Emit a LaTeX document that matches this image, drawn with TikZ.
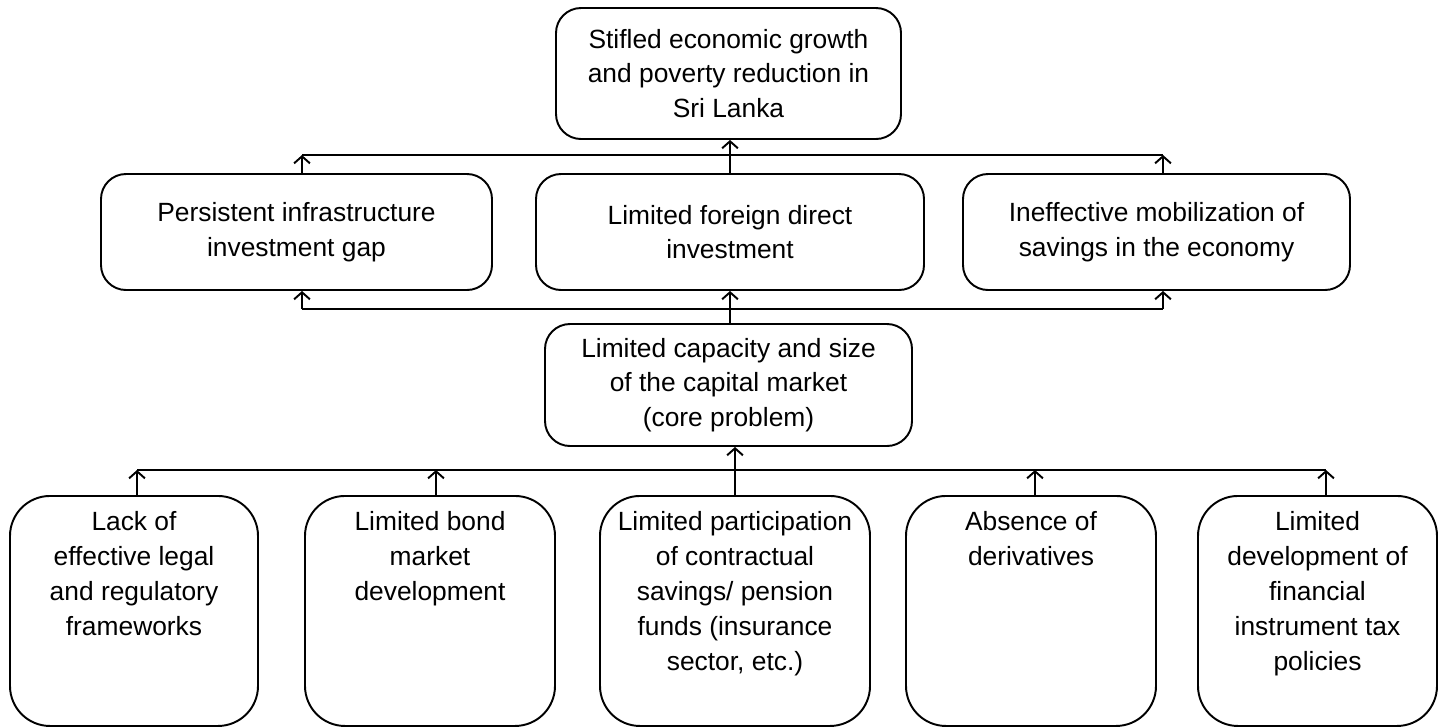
\documentclass[tikz,border=0pt]{standalone}
\usepackage{fontspec}
\setmainfont{Liberation Sans}
\usetikzlibrary{arrows.meta}

\tikzset{
  box/.style={draw, line width=1.1pt, rounded corners=0.5cm, align=center,
    inner sep=1pt, font=\fontsize{15}{19.8}\selectfont},
  tallbox/.style={box, align=flush center, rounded corners=0.8cm, anchor=north, inner sep=0pt,
    text height=0.7cm, text depth=3.9cm},
  arr/.style={line width=1.1pt, -{Straight Barb[length=4pt,width=9pt,line width=1.1pt]}},
  bar/.style={line width=1pt}
}

\begin{document}
\begin{tikzpicture}
  \useasboundingbox (0,0) rectangle (28.86,-14.54);
  \def\midh{2.32cm}

  % the goal at the top
  \node[box, minimum width=6.9cm, minimum height=2.62cm] (goal) at (14.57,-1.47)
    {Stifled economic growth\\and poverty reduction in\\Sri Lanka};

  % the three effects
  \node[box, minimum width=7.82cm, minimum height=\midh] (infra) at (5.93,-4.64)
    {Persistent infrastructure\\investment gap};
  \node[box, minimum width=7.76cm, minimum height=\midh] (fdi) at (14.6,-4.64)
    {Limited foreign direct\\investment};
  \node[box, minimum width=7.74cm, minimum height=\midh] (savings) at (23.13,-4.64)
    {Ineffective mobilization of\\savings in the economy};

  % the core problem
  \node[box, minimum width=7.34cm, minimum height=2.44cm] (core) at (14.57,-7.7)
    {Limited capacity and size\\of the capital market\\(core problem)};

  % the five causes
  \node[tallbox, text width=4.96cm] (legal) at (2.68,-9.9)
    {Lack of\\effective legal\\and regulatory\\frameworks};
  \node[tallbox, text width=5.0cm] (bond) at (8.6,-9.9)
    {Limited bond\\market\\development};
  \node[tallbox, text width=5.4cm] (pension) at (14.7,-9.9)
    {Limited participation\\of contractual\\savings/ pension\\funds (insurance\\sector, etc.)};
  \node[tallbox, text width=5.0cm] (deriv) at (20.62,-9.9)
    {Absence of\\derivatives};
  \node[tallbox, text width=4.78cm] (tax) at (26.35,-9.9)
    {Limited\\development of\\financial\\instrument tax\\policies};

  % the bars that join them
  \coordinate (topbar) at (0,-3.1);
  \coordinate (midbar) at (0,-6.18);
  \coordinate (lowbar) at (0,-9.4);

  % effects up to the goal
  \draw[bar] ([xshift=0.11cm]infra.north |- topbar) -- ([xshift=0.13cm]savings.north |- topbar);
  \draw[arr] ([xshift=0.11cm]infra.north) -- ([xshift=0.11cm]infra.north |- topbar);
  \draw[arr] ([xshift=0.13cm]savings.north) -- ([xshift=0.13cm]savings.north |- topbar);
  \draw[arr] (fdi.north) -- (fdi.north |- goal.south);

  % core problem up to the effects
  \draw[bar] ([xshift=0.11cm]infra.south |- midbar) -- ([xshift=0.13cm]savings.south |- midbar);
  \draw[arr] ([xshift=0.11cm]infra.south |- midbar) -- ([xshift=0.11cm]infra.south);
  \draw[arr] ([xshift=0.13cm]savings.south |- midbar) -- ([xshift=0.13cm]savings.south);
  \draw[arr] (fdi.south |- core.north) -- (fdi.south);

  % causes up to the core problem
  \draw[bar] ([xshift=0.06cm]legal.north |- lowbar) -- ([xshift=0.17cm]tax.north |- lowbar);
  \draw[arr] ([xshift=0.06cm]legal.north) -- ([xshift=0.06cm]legal.north |- lowbar);
  \draw[arr] ([xshift=0.12cm]bond.north) -- ([xshift=0.12cm]bond.north |- lowbar);
  \draw[arr] ([xshift=0.08cm]deriv.north) -- ([xshift=0.08cm]deriv.north |- lowbar);
  \draw[arr] ([xshift=0.17cm]tax.north) -- ([xshift=0.17cm]tax.north |- lowbar);
  \draw[arr] (pension.north) -- (pension.north |- core.south);
\end{tikzpicture}
\end{document}
